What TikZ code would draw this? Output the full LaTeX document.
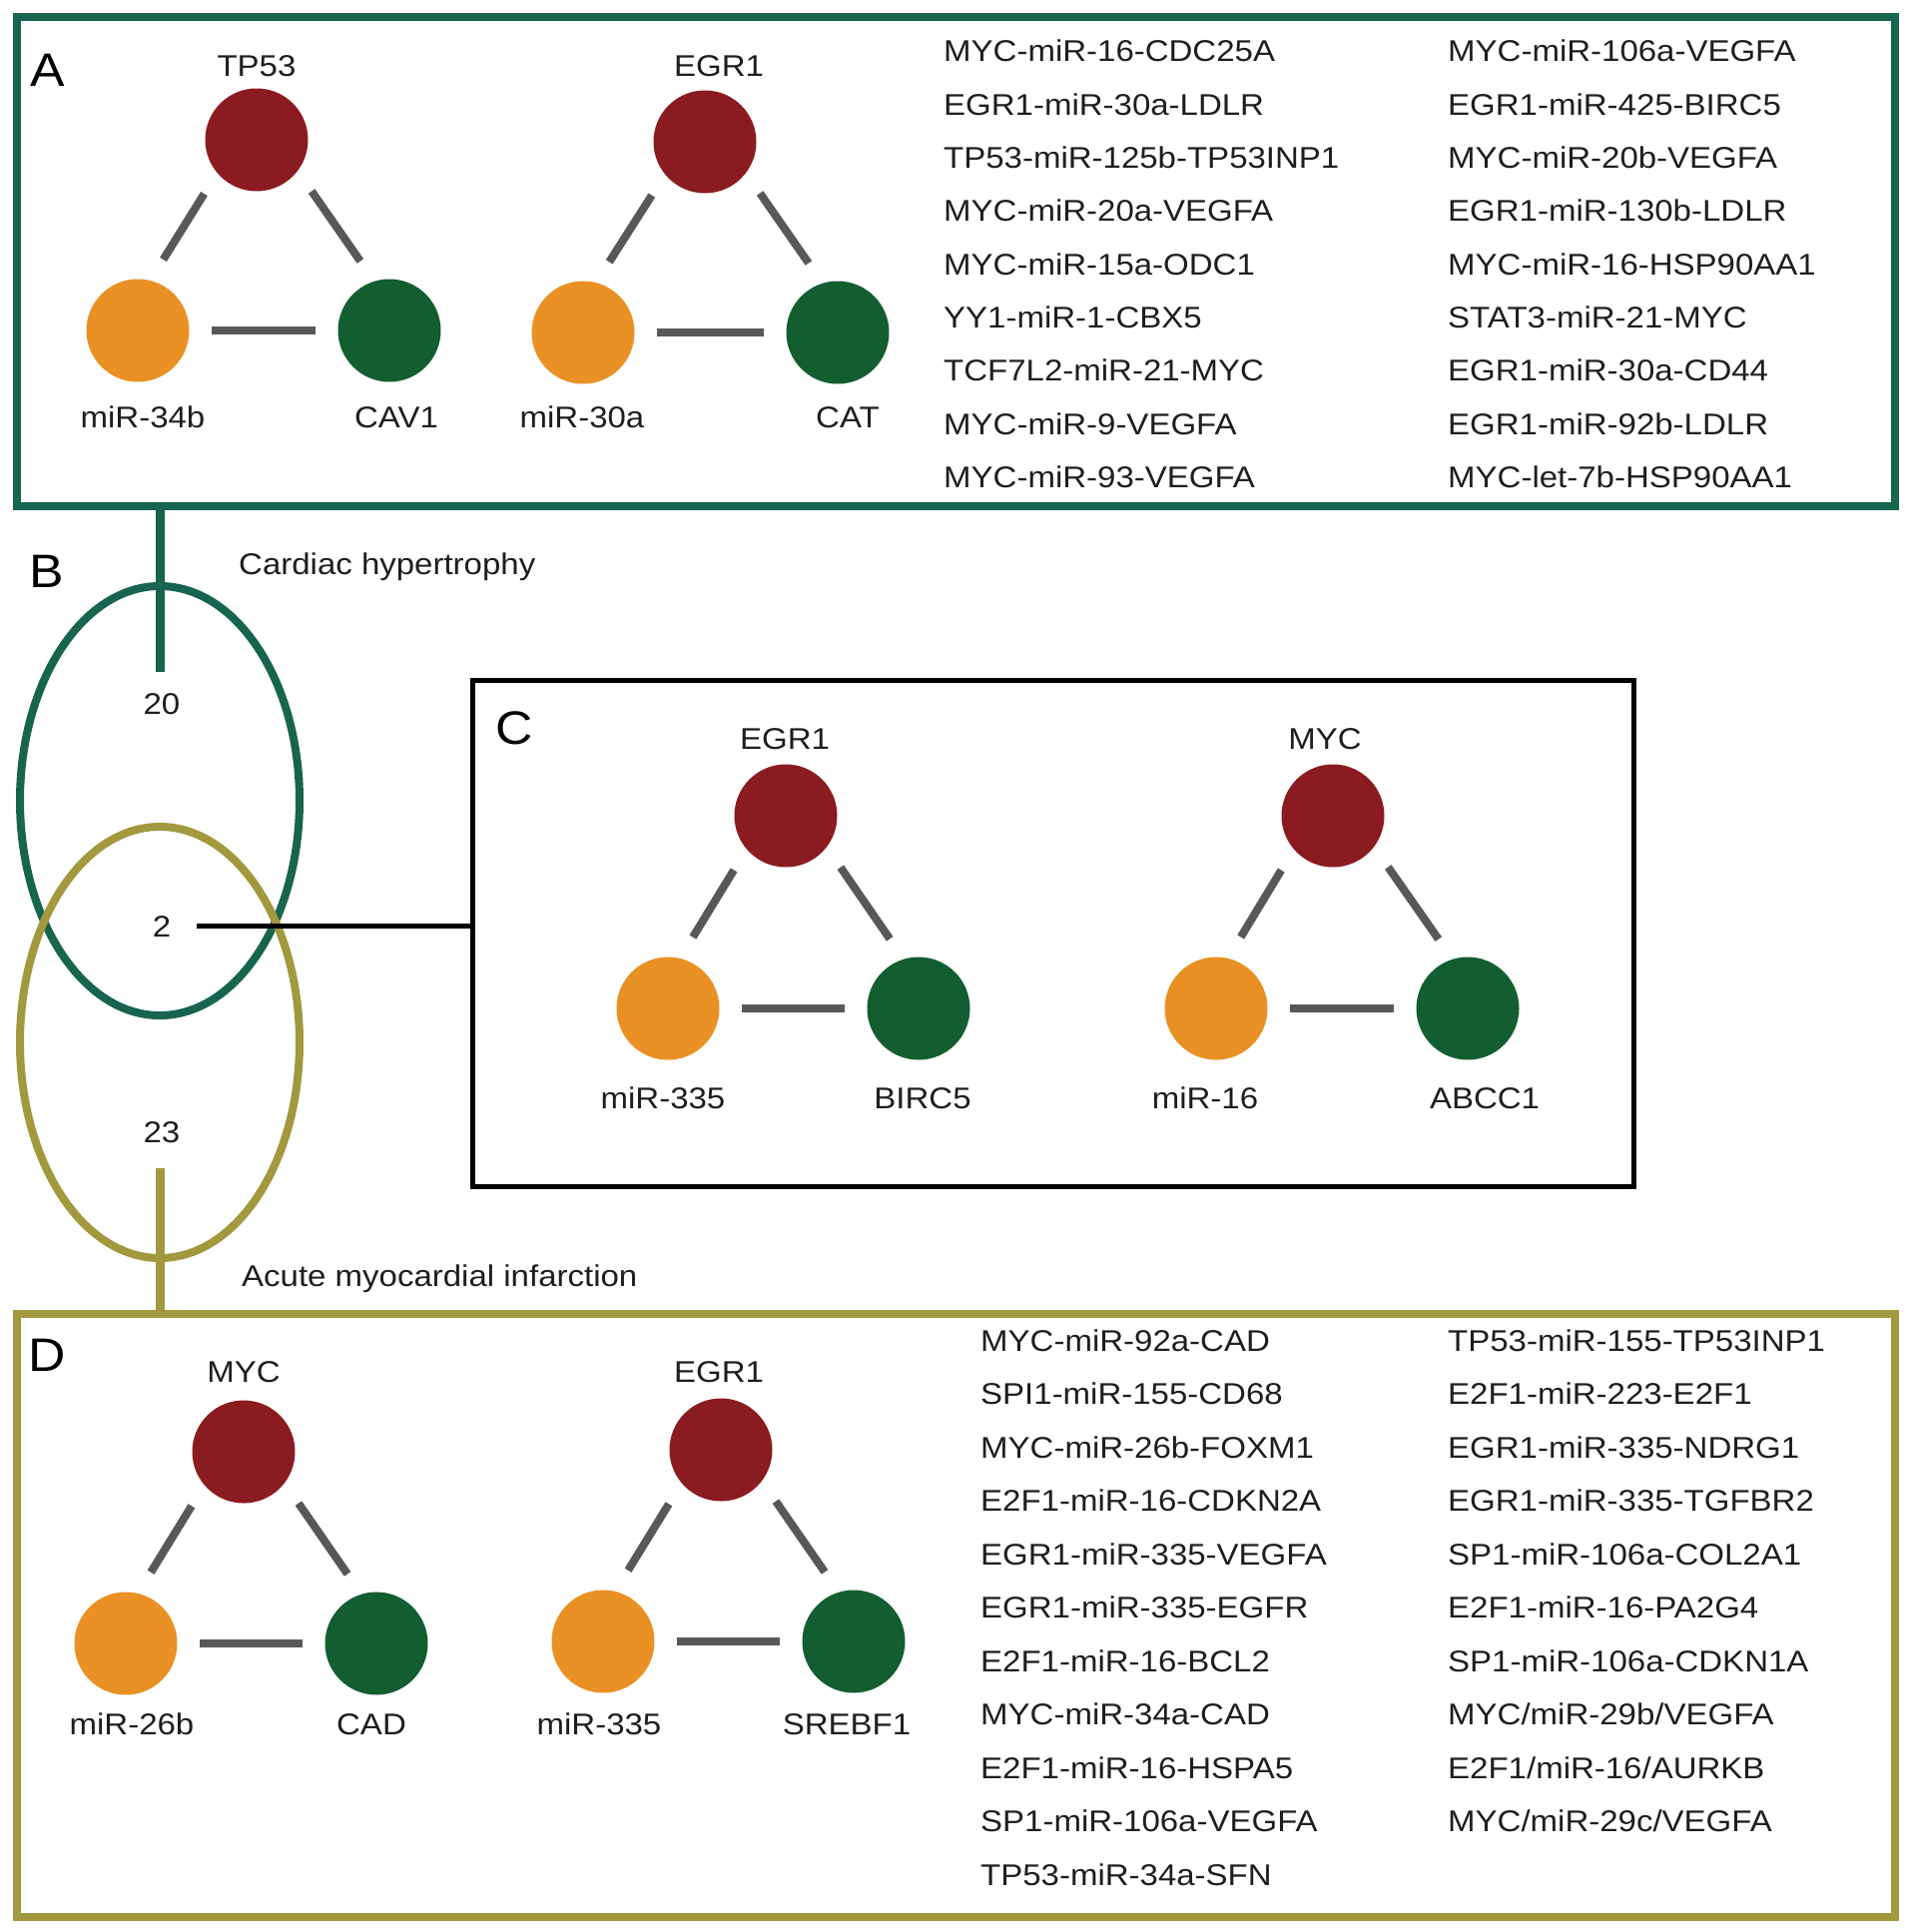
\documentclass[tikz,border=0pt]{standalone}
\usepackage{fontspec}
\setmainfont{Liberation Sans}[FakeStretch=1.1]
\definecolor{tealc}{HTML}{17644F}
\definecolor{olivec}{HTML}{A2983E}
\definecolor{tfred}{HTML}{8A1B20}
\definecolor{mirorange}{HTML}{E99124}
\definecolor{genegreen}{HTML}{135E30}
\definecolor{linkgray}{HTML}{58585A}
\definecolor{txt}{HTML}{1E1E1E}
\begin{document}
\begin{tikzpicture}[x=1pt,y=-1pt,
  lbl/.style={inner sep=0, anchor=base, font=\fontsize{30}{36}\selectfont, text=txt},
  lst/.style={lbl, anchor=base west},
  plet/.style={inner sep=0, anchor=base, font=\fontsize{47}{52}\selectfont, text=black},
  tfnode/.style={circle, inner sep=0, minimum size=103pt, fill=tfred},
  mirnode/.style={circle, inner sep=0, minimum size=103pt, fill=mirorange},
  genenode/.style={circle, inner sep=0, minimum size=103pt, fill=genegreen},
  link/.style={draw=linkgray, line width=8pt, shorten <=22pt, shorten >=22pt},
  diagl/.style={link, transform canvas={xshift=-13.5pt, yshift=8.5pt}},
  diagr/.style={link, transform canvas={xshift=13pt, yshift=9pt}},
  panel/.style={draw, rectangle, inner sep=0, outer sep=0}]
\useasboundingbox (0,0) rectangle (1913,1935);

% ---------- Panel A ----------
\node[panel, draw=tealc, line width=8pt, minimum width=1881pt, minimum height=490pt] (boxA) at (957.5,262) {};
\node[plet] (letA) at (48,86) {A};

\node[tfnode] (a1t) at (257,140) {};
\node[mirnode] (a1l) at (138,331) {};
\node[genenode] (a1r) at (390,331) {};
\draw[diagl] (a1t) -- (a1l);
\draw[diagr] (a1t) -- (a1r);
\draw[link] (a1l) -- (a1r);
\node[lbl] (a1tl) at (257,77) {TP53};
\node[lbl] (a1ll) at (143,428) {miR-34b};
\node[lbl] (a1rl) at (397,428) {CAV1};

\node[tfnode] (a2t) at (706,142) {};
\node[mirnode] (a2l) at (584,333) {};
\node[genenode] (a2r) at (839,333) {};
\draw[diagl] (a2t) -- (a2l);
\draw[diagr] (a2t) -- (a2r);
\draw[link] (a2l) -- (a2r);
\node[lbl] (a2tl) at (720,77) {EGR1};
\node[lbl] (a2ll) at (583,428) {miR-30a};
\node[lbl] (a2rl) at (849,428) {CAT};

\foreach \t [count=\i] in {MYC-miR-16-CDC25A,EGR1-miR-30a-LDLR,TP53-miR-125b-TP53INP1,MYC-miR-20a-VEGFA,MYC-miR-15a-ODC1,YY1-miR-1-CBX5,TCF7L2-miR-21-MYC,MYC-miR-9-VEGFA,MYC-miR-93-VEGFA}
  \node[lst] (la1-\i) at (945,{62+53.3*(\i-1)}) {\t};
\foreach \t [count=\i] in {MYC-miR-106a-VEGFA,EGR1-miR-425-BIRC5,MYC-miR-20b-VEGFA,EGR1-miR-130b-LDLR,MYC-miR-16-HSP90AA1,STAT3-miR-21-MYC,EGR1-miR-30a-CD44,EGR1-miR-92b-LDLR,MYC-let-7b-HSP90AA1}
  \node[lst] (la2-\i) at (1450,{62+53.3*(\i-1)}) {\t};

% ---------- Panel B (Venn) ----------
\node[plet] (letB) at (47,588) {B};
\draw[tealc, line width=8pt] (160,802) ellipse [x radius=140pt, y radius=215pt];
\draw[olivec, line width=8pt] (160,1044) ellipse [x radius=140pt, y radius=216pt];
\coordinate (tA) at (160,673);
\draw[tealc, line width=9pt] (tA |- boxA.south) -- (tA);
\coordinate (tD) at (160,1170);
\node[lbl] (n20) at (162,715) {20};
\node[lbl] (n2) at (162,938) {2};
\node[lbl] (n23) at (162,1144) {23};
\node[lst] (chlab) at (239,575) {Cardiac hypertrophy};
\node[lst] (amilab) at (242,1288) {Acute myocardial infarction};

% ---------- Panel C ----------
\node[panel, draw=black, line width=5pt, minimum width=1163pt, minimum height=507pt] (boxC) at (1054.5,934.5) {};
\draw[black, line width=4.5pt] ([xshift=26pt]n2.east) -- (n2.east -| boxC.west);
\node[plet] (letC) at (515,745) {C};

\node[tfnode] (c1t) at (787,817) {};
\node[mirnode] (c1l) at (669,1010) {};
\node[genenode] (c1r) at (920,1010) {};
\draw[diagl] (c1t) -- (c1l);
\draw[diagr] (c1t) -- (c1r);
\draw[link] (c1l) -- (c1r);
\node[lbl] (c1tl) at (786,750) {EGR1};
\node[lbl] (c1ll) at (664,1110) {miR-335};
\node[lbl] (c1rl) at (924,1110) {BIRC5};

\node[tfnode] (c2t) at (1335,817) {};
\node[mirnode] (c2l) at (1218,1010) {};
\node[genenode] (c2r) at (1470,1010) {};
\draw[diagl] (c2t) -- (c2l);
\draw[diagr] (c2t) -- (c2r);
\draw[link] (c2l) -- (c2r);
\node[lbl] (c2tl) at (1327,750) {MYC};
\node[lbl] (c2ll) at (1207,1110) {miR-16};
\node[lbl] (c2rl) at (1487,1110) {ABCC1};

% ---------- Panel D ----------
\node[panel, draw=olivec, line width=8pt, minimum width=1881pt, minimum height=604pt] (boxD) at (957.5,1618) {};
\draw[olivec, line width=9pt] (tD) -- (tD |- boxD.north);
\node[plet] (letD) at (47,1373) {D};

\node[tfnode] (d1t) at (244,1454) {};
\node[mirnode] (d1l) at (126,1646) {};
\node[genenode] (d1r) at (377,1646) {};
\draw[diagl] (d1t) -- (d1l);
\draw[diagr] (d1t) -- (d1r);
\draw[link] (d1l) -- (d1r);
\node[lbl] (d1tl) at (244,1384) {MYC};
\node[lbl] (d1ll) at (132,1737) {miR-26b};
\node[lbl] (d1rl) at (372,1737) {CAD};

\node[tfnode] (d2t) at (722,1452) {};
\node[mirnode] (d2l) at (604,1644) {};
\node[genenode] (d2r) at (855,1644) {};
\draw[diagl] (d2t) -- (d2l);
\draw[diagr] (d2t) -- (d2r);
\draw[link] (d2l) -- (d2r);
\node[lbl] (d2tl) at (720,1384) {EGR1};
\node[lbl] (d2ll) at (600,1737) {miR-335};
\node[lbl] (d2rl) at (848,1737) {SREBF1};

\foreach \t [count=\i] in {MYC-miR-92a-CAD,SPI1-miR-155-CD68,MYC-miR-26b-FOXM1,E2F1-miR-16-CDKN2A,EGR1-miR-335-VEGFA,EGR1-miR-335-EGFR,E2F1-miR-16-BCL2,MYC-miR-34a-CAD,E2F1-miR-16-HSPA5,SP1-miR-106a-VEGFA,TP53-miR-34a-SFN}
  \node[lst] (ld1-\i) at (982,{1353+53.5*(\i-1)}) {\t};
\foreach \t [count=\i] in {TP53-miR-155-TP53INP1,E2F1-miR-223-E2F1,EGR1-miR-335-NDRG1,EGR1-miR-335-TGFBR2,SP1-miR-106a-COL2A1,E2F1-miR-16-PA2G4,SP1-miR-106a-CDKN1A,MYC/miR-29b/VEGFA,E2F1/miR-16/AURKB,MYC/miR-29c/VEGFA}
  \node[lst] (ld2-\i) at (1450,{1353+53.5*(\i-1)}) {\t};
\end{tikzpicture}
\end{document}
